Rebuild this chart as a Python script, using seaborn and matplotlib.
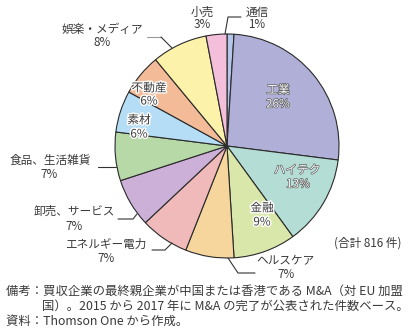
import matplotlib
matplotlib.use("Agg")
import matplotlib.pyplot as plt
import matplotlib.patheffects as pe
from matplotlib.lines import Line2D
import seaborn as sns

# ---------------- data ----------------
categories = ["通信", "工業", "ハイテク", "金融", "ヘルスケア", "エネルギー電力",
              "卸売、サービス", "食品、生活雑貨", "素材", "不動産", "娯楽・メディア", "小売"]
shares = [1, 26, 13, 9, 7, 7, 7, 7, 6, 6, 8, 3]
total_note = "(合計 816 件)"
note_lines = ["備考：買収企業の最終親企業が中国または香港である M&A（対 EU 加盟",
              "国）。2015 から 2017 年に M&A の完了が公表された件数ベース。",
              "資料：Thomson One から作成。"]

# ---------------- style ----------------
colors = ["#b3c6ea", "#afafd7", "#b4ddd5", "#dae7aa", "#f6d69c", "#f1baba",
          "#ccb0d8", "#b7d8a7", "#b5def6", "#f3bb97", "#fcf2aa", "#f3bfda"]
sns.set_theme(style="white")
plt.rcParams["font.family"] = ["Noto Sans CJK JP", "DejaVu Sans"]
TXT = "#3a3a3a"

W, H = 410, 336
fig = plt.figure(figsize=(W / 100, H / 100), dpi=100)
cx, cy, r = 227, 146, 112
ax = fig.add_axes([(cx - r) / W, (H - cy - r) / H, 2 * r / W, 2 * r / H])
ax.pie(shares, colors=colors, startangle=90, counterclock=False,
       wedgeprops=dict(edgecolor="#2a2a2a", linewidth=0.8))
ax.set_xlim(-1, 1)
ax.set_ylim(-1, 1)
ax.axis("off")


def fx(x):
    return x / W


def fy(y):
    return 1 - y / H


def label(x, y, s, size=8.4, color=TXT, effects=None, ha="center"):
    fig.text(fx(x), fy(y), s, ha=ha, va="center", fontsize=size, color=color,
             path_effects=effects)


def leader(pts, color="#333333"):
    xs = [fx(p[0]) for p in pts]
    ys = [fy(p[1]) for p in pts]
    fig.add_artist(Line2D(xs, ys, color=color, linewidth=0.8,
                          transform=fig.transFigure))


pct = {c: f"{v}%" for c, v in zip(categories, shares)}
white_fx = [pe.withStroke(linewidth=0.9, foreground="#555555")]
dark_fx = [pe.withStroke(linewidth=2.0, foreground="white")]

# label layout (pixel positions of name / percent)
layout = {
    "通信": ((257, 12), (257, 25), None),
    "工業": ((278, 90), (278, 104), "white"),
    "ハイテク": ((297, 170), (298, 184), "white"),
    "金融": ((262, 208), (262, 222), "dark"),
    "ヘルスケア": ((285, 261), (286, 275), None),
    "エネルギー電力": ((106, 244), (106, 258), None),
    "卸売、サービス": ((74, 211), (74, 226), None),
    "食品、生活雑貨": ((50, 160), (49, 174), None),
    "素材": ((139, 120), (139, 134), "dark"),
    "不動産": ((149, 88), (149, 101), "dark"),
    "娯楽・メディア": ((102, 29), (102, 43), None),
    "小売": ((202, 12), (202, 25), None),
}
for c in categories:
    (x1, y1), (x2, y2), kind = layout[c]
    if kind == "white":
        label(x1, y1, c, color="white", effects=white_fx)
        label(x2, y2, pct[c], color="white", effects=white_fx)
    elif kind == "dark":
        label(x1, y1, c, effects=dark_fx)
        label(x2, y2, pct[c], effects=dark_fx)
    else:
        label(x1, y1, c)
        label(x2, y2, pct[c])

# leader lines
leader([(225, 34), (228, 17), (241, 17)])
leader([(147, 37), (161, 37)], color="#9a9a9a")
leader([(161, 37), (172, 48)])
leader([(98, 167), (116, 167)])
leader([(118, 219), (133, 219), (137, 214)])
leader([(152, 250), (165, 250), (172, 243)])
leader([(228, 258), (238, 273), (255, 273)])

label(402, 243, total_note, ha="right")

fig.text(fx(6), fy(291), note_lines[0], ha="left", va="center", fontsize=8.9, color=TXT)
fig.text(fx(42), fy(306), note_lines[1], ha="left", va="center", fontsize=8.9, color=TXT)
fig.text(fx(6), fy(321), note_lines[2], ha="left", va="center", fontsize=8.9, color=TXT)

fig.savefig("out.png", dpi=100, facecolor="white")
